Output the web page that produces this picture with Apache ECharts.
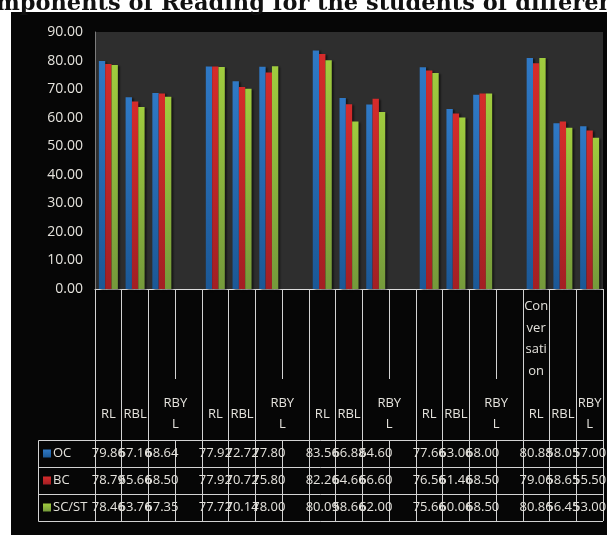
<!DOCTYPE html>
<html>
<head>
<meta charset="utf-8">
<script src="https://cdn.jsdelivr.net/npm/echarts@6/dist/echarts.min.js"></script>
<style>
  html, body { margin: 0; padding: 0; background: #fff; }
  #backdrop { position: absolute; left: 11px; top: 12px; width: 596px; height: 523px; background: #060606; }
  #chart { position: absolute; left: 0; top: 0; width: 607px; height: 535px; }
</style>
</head>
<body>
<div id="backdrop"></div>
<div id="chart"></div>
<script>
const titleText = 'Components of Reading for the students of different categories';
const skills = ['RL', 'RBL', 'RBYL'];
const groupLabels = ['', '', '', '', 'Conversation'];
const seriesNames = ['OC', 'BC', 'SC/ST'];
const ocValues = [79.86, 67.16, 68.64, 77.92, 72.72, 77.80, 83.56, 66.88, 64.60, 77.66, 63.06, 68.00, 80.88, 58.05, 57.00];
const bcValues = [78.79, 65.66, 68.50, 77.92, 70.72, 75.80, 82.26, 64.66, 66.60, 76.56, 61.46, 68.50, 79.06, 58.65, 55.50];
const scValues = [78.46, 63.76, 67.35, 77.72, 70.14, 78.00, 80.09, 58.66, 62.00, 75.66, 60.06, 68.50, 80.86, 56.45, 53.00];

const textColor = '#e4e2dc';
const lineColor = '#d2d2d2';
const font = '"Open Sans", "Noto Sans", sans-serif';

// one empty slot after every group of three, except the last group
function spread(values) {
  const out = [];
  values.forEach((v, i) => {
    out.push(v);
    if (i % 3 === 2 && i < values.length - 1) out.push(null);
  });
  return out;
}

const categories = spread(groupLabels.flatMap(g => skills.map((s, si) => (g && si === 0 ? g + ' ' : '') + s)))
  .map(c => c == null ? '' : c);
const isGap = i => categories[i] === '';
const cellText = values => spread(values).map(v => v == null ? '' : v.toFixed(2));

function categoryLabel(value, index) {
  if (value === 'RBYL') return isGap(index + 1) ? '{w|RBY}\n{w|L}' : 'RBY\nL';
  if (value.indexOf('Conversation') === 0) return 'Con\nver\nsati\non\n\nRL\n\n\n\n\n';
  return value;
}

const chart = echarts.init(document.getElementById('chart'));

const barColors = [
  ['#2f79c6', '#1b5896'],
  ['#d52b2b', '#a31f24'],
  ['#a0cc3e', '#759a3b']
];

const tableAxis = (values, margin, withTicks) => ({
  type: 'category',
  data: cellText(values),
  position: 'bottom',
  offset: 151,
  axisLine: { show: false },
  axisTick: { show: withTicks, length: 81, interval: isGap, lineStyle: { color: lineColor } },
  axisLabel: { interval: 0, margin: margin, verticalAlign: 'middle', color: textColor, fontSize: 13, fontFamily: font }
});

const option = {
  animation: false,
  backgroundColor: 'transparent',
  grid: { left: 95, top: 32, width: 508, height: 257, show: true, backgroundColor: '#2e2e2e', borderWidth: 0, outerBoundsMode: 'none' },
  legend: {
    orient: 'vertical', left: 43, top: 447, padding: 0,
    itemWidth: 8, itemHeight: 8, itemGap: 14, selectedMode: false,
    icon: 'rect',
    textStyle: { color: textColor, fontSize: 13, fontFamily: font, lineHeight: 13, padding: [0, 0, 0, -3] },
    data: seriesNames
  },
  xAxis: [
    {
      type: 'category', data: categories, position: 'bottom',
      axisLine: { show: true, lineStyle: { color: '#dadada', width: 1 } },
      axisTick: { show: true, length: 232, interval: i => !isGap(i), lineStyle: { color: lineColor } },
      axisLabel: {
        interval: 0, margin: 125, verticalAlign: 'middle', color: textColor,
        fontSize: 13, fontFamily: font, lineHeight: 21.5,
        formatter: categoryLabel,
        rich: { w: { color: textColor, fontSize: 13, fontFamily: font, lineHeight: 21.5, padding: [0, 0, 0, 27] } }
      }
    },
    {
      type: 'category', data: categories, position: 'bottom',
      axisLine: { show: false }, axisLabel: { show: false },
      axisTick: { show: true, length: 90, interval: isGap, lineStyle: { color: lineColor } }
    },
    tableAxis(ocValues, 13.5, true),
    tableAxis(bcValues, 40.5, false),
    tableAxis(scValues, 67.5, false)
  ],
  yAxis: {
    type: 'value', min: 0, max: 90, interval: 10,
    axisLine: { show: true, lineStyle: { color: '#7c7c7c' } },
    axisTick: { show: false },
    splitLine: { show: false },
    axisLabel: { margin: 12, color: textColor, fontSize: 14, fontFamily: font, formatter: v => v.toFixed(2) }
  },
  series: [ocValues, bcValues, scValues].map((vals, k) => ({
    name: seriesNames[k],
    type: 'bar',
    xAxisIndex: 0,
    data: spread(vals),
    barGap: '0%',
    barCategoryGap: '29%',
    itemStyle: {
      color: new echarts.graphic.LinearGradient(0, 0, 0, 1, [
        { offset: 0, color: barColors[k][0] },
        { offset: 1, color: barColors[k][1] }
      ]),
      shadowColor: 'rgba(0,0,0,0.55)', shadowOffsetX: 2, shadowOffsetY: 1, shadowBlur: 2
    }
  })),
  graphic: [
    {
      type: 'text', x: -37, y: 4,
      style: { text: titleText, font: 'bold 22.5px "DejaVu Serif"', fill: '#111', verticalAlign: 'middle' }
    },
    ...[440.5, 467.5, 494.5, 521.5].map(y => ({
      type: 'line', shape: { x1: 38.5, y1: y, x2: 603, y2: y },
      style: { stroke: lineColor, lineWidth: 1 }
    })),
    { type: 'line', shape: { x1: 38.5, y1: 440.5, x2: 38.5, y2: 521.5 }, style: { stroke: lineColor, lineWidth: 1 } }
  ]
};

chart.setOption(option);
</script>
</body>
</html>
